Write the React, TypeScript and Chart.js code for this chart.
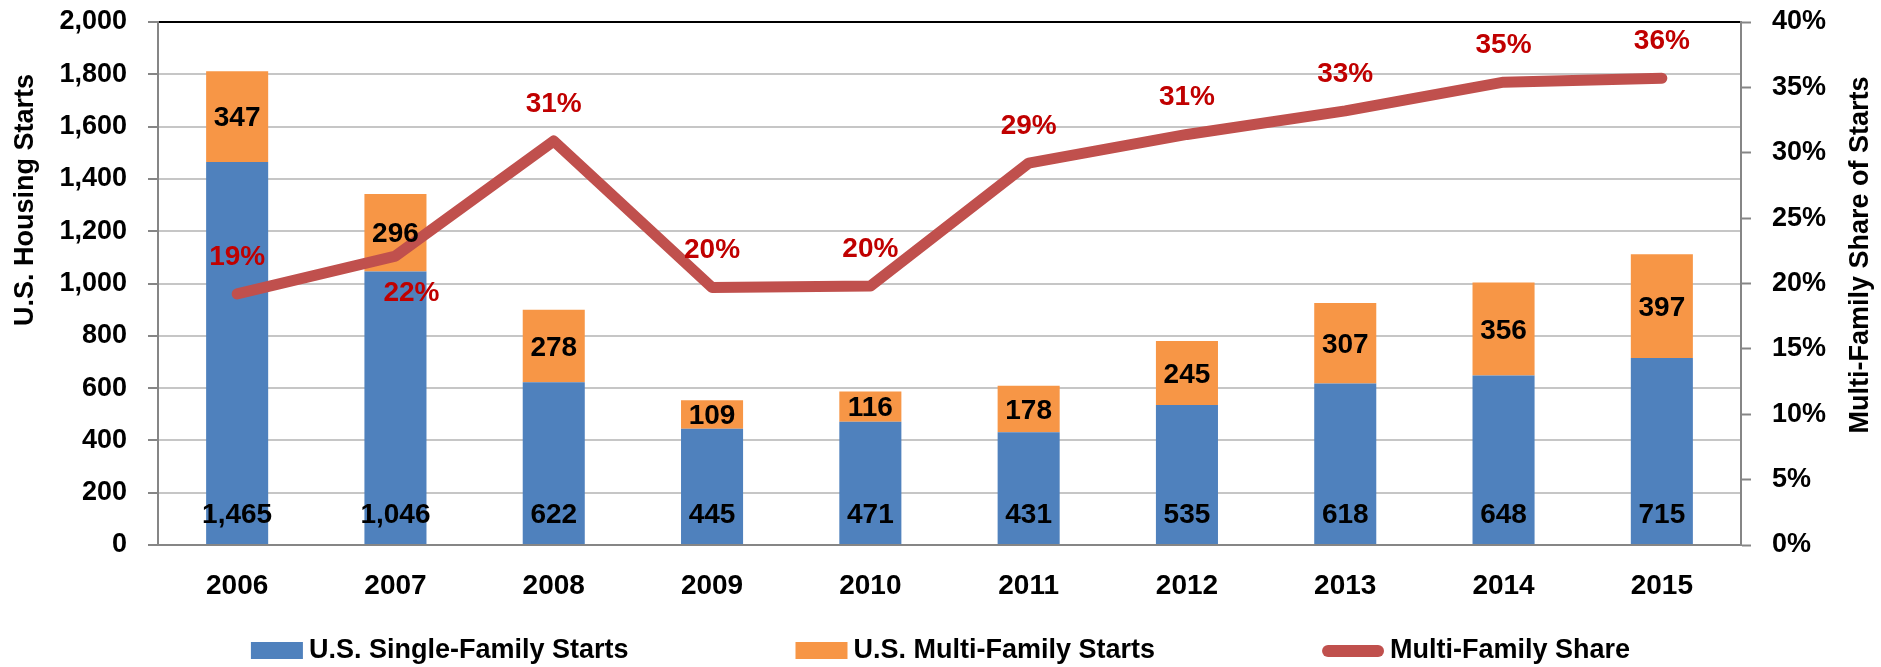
import React, { useEffect, useRef } from "react";
import { Chart, registerables } from "chart.js";

Chart.register(...registerables);

// ---------- data ----------
const years = ["2006", "2007", "2008", "2009", "2010", "2011", "2012", "2013", "2014", "2015"];
const singleFamilyStarts = [1465, 1046, 622, 445, 471, 431, 535, 618, 648, 715];
const multiFamilyStarts = [347, 296, 278, 109, 116, 178, 245, 307, 356, 397];
const multiFamilySharePct = [19.2, 22.1, 30.9, 19.7, 19.8, 29.2, 31.4, 33.2, 35.4, 35.7];

const leftAxisMax = 2000;
const leftAxisStep = 200;
const rightAxisMax = 40;
const rightAxisStep = 5;

const leftAxisTitle = "U.S. Housing Starts";
const rightAxisTitle = "Multi-Family Share of Starts";
const seriesLabels = ["U.S. Single-Family Starts", "U.S. Multi-Family Starts", "Multi-Family Share"];

// share labels that sit below their point instead of above
const shareLabelsBelow = ["2007"];

// ---------- style ----------
const FONT = "'Liberation Sans', Arial, Helvetica, sans-serif";
const BLUE = "#4F81BD";
const ORANGE = "#F79646";
const RED_LINE = "#C0504D";
const RED_TEXT = "#C00000";
const AXIS_GRAY = "#868686";
const GRID_GRAY = "#C6C6C6";

const overlayPlugin = {
  id: "overlay",
  afterDatasetsDraw(chart: any) {
    const ctx = chart.ctx as CanvasRenderingContext2D;
    const yScale = chart.scales.y;
    ctx.save();
    ctx.textAlign = "center";
    ctx.textBaseline = "middle";
    ctx.font = `bold 28px ${FONT}`;
    ctx.fillStyle = "#000";

    // single-family labels near bar base
    const m0 = chart.getDatasetMeta(0);
    m0.data.forEach((el: any, i: number) => {
      const p = el.getProps(["x"], true);
      ctx.fillText(singleFamilyStarts[i].toLocaleString("en-US"), p.x, yScale.getPixelForValue(0) - 30);
    });

    // multi-family labels centered in segment
    const m1 = chart.getDatasetMeta(1);
    m1.data.forEach((el: any, i: number) => {
      const p = el.getProps(["x", "y", "base"], true);
      ctx.fillText(multiFamilyStarts[i].toLocaleString("en-US"), p.x, (p.y + p.base) / 2 + 2);
    });

    // share labels
    const m2 = chart.getDatasetMeta(2);
    ctx.fillStyle = RED_TEXT;
    m2.data.forEach((el: any, i: number) => {
      const p = el.getProps(["x", "y"], true);
      const below = shareLabelsBelow.includes(years[i]);
      const txt = Math.round(multiFamilySharePct[i]) + "%";
      ctx.fillText(txt, p.x + (below ? 16 : 0), p.y + (below ? 37 : -37));
    });
    ctx.restore();
  },
  afterDraw(chart: any) {
    const ctx = chart.ctx as CanvasRenderingContext2D;
    ctx.save();
    ctx.fillStyle = "#000";
    ctx.font = `bold 27px ${FONT}`;
    ctx.textAlign = "center";
    ctx.textBaseline = "middle";

    // axis titles
    ctx.save();
    ctx.translate(26, 200);
    ctx.rotate(-Math.PI / 2);
    ctx.fillText(leftAxisTitle, 0, 0);
    ctx.restore();

    ctx.save();
    ctx.translate(chart.width - 20, 255);
    ctx.rotate(-Math.PI / 2);
    ctx.fillText(rightAxisTitle, 0, 0);
    ctx.restore();

    // legend
    const items = chart.data.datasets.map((ds: any) => ({
      text: ds.label as string,
      line: ds.type === "line",
      color: ds.type === "line" ? ds.borderColor : ds.backgroundColor,
    }));
    const gap = 6;
    const spacing = 167;
    const markerW = (it: any) => (it.line ? 62 : 52);
    const widths = items.map((it: any) => markerW(it) + gap + ctx.measureText(it.text).width);
    const total = widths.reduce((a: number, b: number) => a + b, 0) + spacing * (items.length - 1);
    let lx = chart.width / 2 - total / 2;
    const ly = 651;
    ctx.textAlign = "left";
    items.forEach((it: any, i: number) => {
      if (it.line) {
        ctx.strokeStyle = it.color;
        ctx.lineWidth = 12;
        ctx.lineCap = "round";
        ctx.beginPath();
        ctx.moveTo(lx + 6, ly);
        ctx.lineTo(lx + markerW(it) - 6, ly);
        ctx.stroke();
      } else {
        ctx.fillStyle = it.color;
        ctx.fillRect(lx, ly - 9, markerW(it), 17);
      }
      ctx.fillStyle = "#000";
      ctx.fillText(it.text, lx + markerW(it) + gap, ly);
      lx += widths[i] + spacing;
    });
    ctx.restore();
  },
};

const zeroPadding = (s: any) => {
  s.paddingTop = 0;
  s.paddingBottom = 0;
  s.paddingLeft = 0;
  s.paddingRight = 0;
};

export default function App() {
  const canvasRef = useRef<HTMLCanvasElement | null>(null);

  useEffect(() => {
    if (!canvasRef.current) return;
    Chart.defaults.font.family = FONT;
    const chart = new Chart(canvasRef.current, {
      type: "bar",
      data: {
        labels: years,
        datasets: [
          {
            type: "bar",
            label: seriesLabels[0],
            data: singleFamilyStarts,
            backgroundColor: BLUE,
            yAxisID: "y",
            stack: "starts",
            order: 2,
            barPercentage: 0.392,
            categoryPercentage: 1,
          },
          {
            type: "bar",
            label: seriesLabels[1],
            data: multiFamilyStarts,
            backgroundColor: ORANGE,
            yAxisID: "y",
            stack: "starts",
            order: 2,
            barPercentage: 0.392,
            categoryPercentage: 1,
          },
          {
            type: "line",
            label: seriesLabels[2],
            data: multiFamilySharePct,
            borderColor: RED_LINE,
            backgroundColor: RED_LINE,
            borderWidth: 11,
            borderCapStyle: "round",
            borderJoinStyle: "round",
            pointRadius: 0,
            tension: 0,
            fill: false,
            yAxisID: "y1",
            order: 1,
          },
        ],
      } as any,
      options: {
        animation: false,
        responsive: false,
        layout: { padding: { top: 22, left: 0, right: 0, bottom: 0 } },
        plugins: {
          legend: { display: false },
          tooltip: { enabled: false },
        },
        scales: {
          x: {
            stacked: true,
            offset: true,
            grid: { display: false, drawTicks: false },
            border: { display: true, color: AXIS_GRAY, width: 2 },
            ticks: { padding: 24, color: "#000", font: { size: 28, weight: "bold" } },
            afterFit: (s: any) => {
              s.height = 122;
              zeroPadding(s);
            },
          },
          y: {
            position: "left",
            stacked: true,
            min: 0,
            max: leftAxisMax,
            ticks: {
              stepSize: leftAxisStep,
              padding: 21,
              color: "#000",
              font: { size: 27, weight: "bold" },
              callback: (v: any) => Number(v).toLocaleString("en-US"),
            },
            grid: {
              color: (c: any) =>
                c.tick && c.tick.value === leftAxisMax ? "#000" : c.tick && c.tick.value === 0 ? AXIS_GRAY : GRID_GRAY,
              lineWidth: 2,
              tickColor: AXIS_GRAY,
              tickLength: 10,
              tickWidth: 2,
            },
            border: { display: true, color: AXIS_GRAY, width: 2 },
            afterFit: (s: any) => {
              s.width = 158;
              zeroPadding(s);
            },
          },
          y1: {
            position: "right",
            min: 0,
            max: rightAxisMax,
            ticks: {
              stepSize: rightAxisStep,
              padding: 21,
              color: "#000",
              font: { size: 27, weight: "bold" },
              callback: (v: any) => v + "%",
            },
            grid: {
              drawOnChartArea: false,
              tickColor: AXIS_GRAY,
              tickLength: 10,
              tickWidth: 2,
            },
            border: { display: true, color: AXIS_GRAY, width: 2 },
            afterFit: (s: any) => {
              s.width = 140;
              zeroPadding(s);
            },
          },
        },
      } as any,
      plugins: [overlayPlugin],
    });
    return () => chart.destroy();
  }, []);

  return (
    <div style={{ position: "absolute", left: 0, top: 0, width: 1881, height: 667, background: "#fff" }}>
      <canvas ref={canvasRef} width={1881} height={667} style={{ display: "block" }} />
    </div>
  );
}
